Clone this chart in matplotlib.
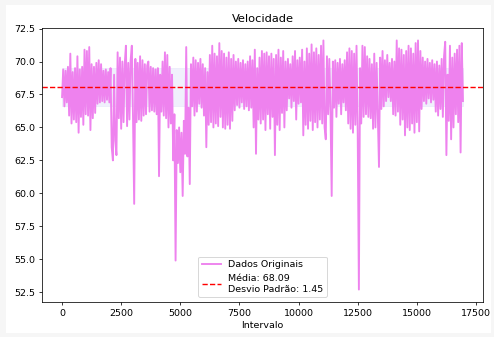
import numpy as np
import matplotlib
matplotlib.use("Agg")
import matplotlib.pyplot as plt
from matplotlib.patches import Rectangle

# values, one every 50 intervals
velocidade = [
    67.3, 69.4, 66.6, 69.3, 66.9, 69.6, 65.9, 70.6, 65.3, 69.2, 65.6, 69.5, 65.4, 70.4, 64.6, 69.4, 65.8, 69.6, 65.2, 70.9,
    66.0, 70.8, 65.9, 71.1, 64.8, 69.8, 65.7, 69.6, 66.1, 69.9, 66.8, 70.1, 66.9, 69.8, 67.0, 69.3, 66.9, 69.4, 67.1, 69.2,
    66.9, 69.5, 63.5, 62.5, 69.0, 64.0, 62.9, 70.7, 65.7, 70.3, 64.9, 70.0, 65.4, 69.8, 71.2, 65.1, 69.9, 65.6, 70.1, 71.2,
    65.8, 59.2, 70.2, 65.4, 69.9, 65.6, 70.4, 65.5, 70.1, 65.9, 69.8, 66.0, 69.7, 70.0, 66.2, 69.6, 66.3, 69.5, 66.2, 69.4,
    66.0, 69.5, 61.3, 69.0, 66.2, 70.0, 65.9, 70.7, 65.7, 70.5, 65.0, 69.6, 65.3, 69.0, 62.5, 66.0, 54.9, 64.8, 62.3, 65.0,
    61.6, 64.6, 59.8, 65.5, 63.0, 71.1, 62.8, 66.5, 60.7, 69.8, 66.6, 70.3, 65.9, 70.1, 66.2, 69.9, 66.8, 70.2, 66.5, 69.8,
    65.9, 69.5, 63.5, 69.2, 65.2, 70.5, 65.4, 71.2, 65.0, 70.6, 65.3, 70.4, 65.1, 71.4, 65.8, 70.8, 65.0, 70.6, 64.9, 70.3,
    65.2, 70.7, 64.9, 70.2, 65.5, 70.5, 66.3, 70.0, 66.7, 70.2, 66.5, 69.9, 66.9, 70.1, 66.4, 69.8, 66.6, 70.0, 66.3, 70.4,
    66.5, 70.1, 65.0, 70.9, 63.0, 69.5, 65.6, 70.3, 65.3, 70.8, 65.6, 70.6, 64.8, 70.7, 66.0, 70.4, 64.9, 70.6, 65.8, 70.2,
    62.9, 70.5, 65.2, 70.9, 64.8, 70.3, 66.1, 70.8, 65.0, 70.0, 66.3, 70.2, 67.2, 69.8, 66.5, 70.4, 67.0, 70.8, 65.6, 70.1,
    66.8, 70.3, 66.9, 70.9, 64.4, 70.0, 65.2, 71.0, 64.9, 70.6, 65.5, 71.3, 64.8, 70.7, 65.4, 71.0, 65.0, 70.5, 65.6, 71.2,
    65.3, 71.6, 65.0, 64.1, 70.4, 66.0, 70.2, 66.2, 59.8, 70.0, 66.5, 70.1, 65.8, 69.9, 66.8, 70.2, 66.0, 69.8, 66.9, 70.1,
    66.3, 70.7, 65.3, 71.0, 64.9, 70.8, 64.6, 70.6, 65.2, 71.2, 64.7, 52.7, 69.5, 65.3, 71.2, 65.8, 71.1, 66.0, 70.4, 65.8,
    70.2, 65.7, 69.8, 64.9, 70.6, 65.0, 69.9, 66.0, 62.0, 70.3, 66.4, 70.8, 66.6, 70.1, 67.0, 70.5, 67.3, 69.9, 67.0, 70.2,
    66.0, 70.0, 65.9, 71.6, 66.2, 71.0, 65.2, 70.9, 65.6, 70.5, 64.4, 70.8, 65.0, 71.2, 64.8, 71.0, 65.3, 70.6, 64.6, 71.4,
    65.4, 71.6, 64.7, 70.8, 66.4, 70.3, 67.0, 70.0, 66.8, 70.2, 67.2, 69.9, 66.9, 70.1, 67.1, 69.8, 66.2, 70.0, 65.9, 69.7,
    66.4, 70.2, 65.8, 70.4, 71.5, 62.9, 69.0, 65.5, 71.2, 64.1, 70.3, 65.0, 70.6, 66.0, 70.9, 65.4, 71.2, 63.1, 71.4, 67.0,
]
passo = 50
intervalo = np.arange(len(velocidade)) * passo

media = 68.09
desvio = 1.45

fig = plt.figure(figsize=(494 / 68, 337 / 68), dpi=68)
fig.patch.set_facecolor('#f6f6f6')
fig.patches.append(Rectangle((6 / 494, 4 / 337), 485 / 494, 328 / 337,
                             transform=fig.transFigure, facecolor='white',
                             edgecolor='none', zorder=-10))
ax = fig.add_axes([42 / 494, 1 - 302 / 337, 441 / 494, 274 / 337])

ax.fill_between(intervalo, media - desvio, media + desvio,
                color='lavender', alpha=0.6, zorder=0)
ax.plot(intervalo, velocidade, color='violet', linewidth=2,
        label='Dados Originais')
ax.axhline(media, color='r', linestyle='--',
           label='Média: %.2f\nDesvio Padrão: %.2f' % (media, desvio))

ax.set_title('Velocidade')
ax.set_xlabel('Intervalo')
ax.legend(loc='lower center')

fig.savefig('out.png', dpi=68, facecolor=fig.get_facecolor())
